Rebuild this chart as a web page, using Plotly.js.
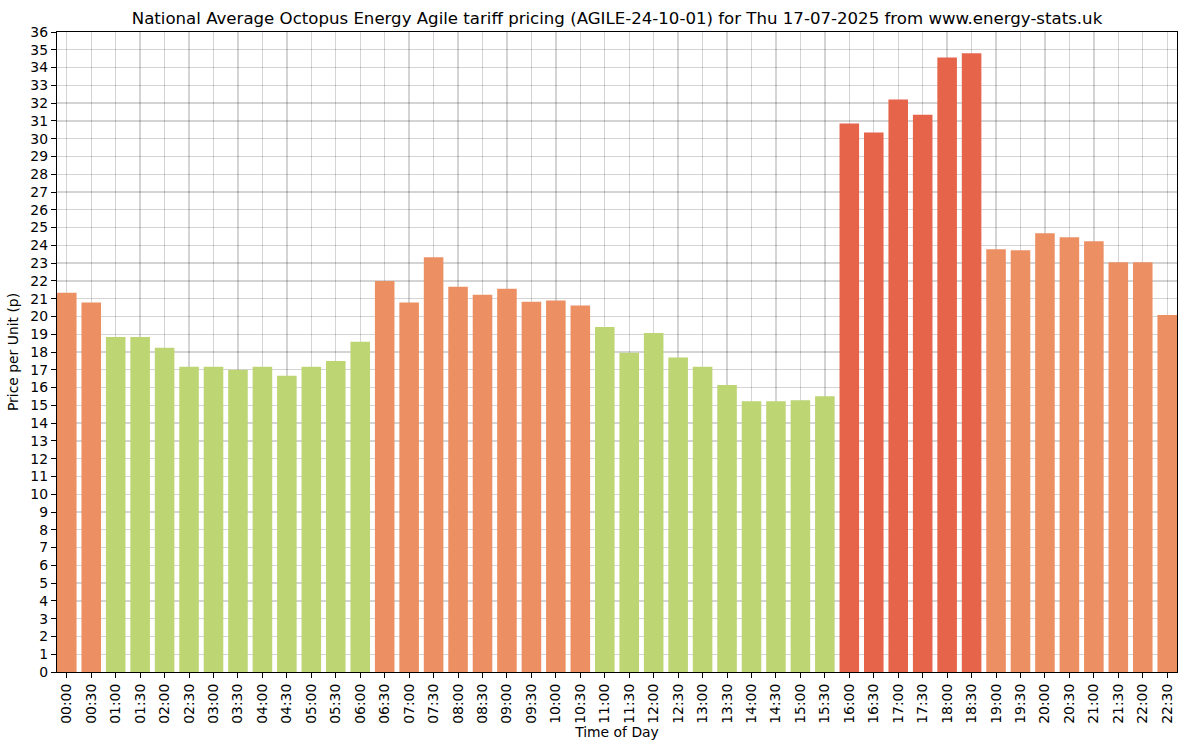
<!DOCTYPE html>
<html>
<head>
<meta charset="utf-8">
<script src="https://cdn.plot.ly/plotly-3.0.1.min.js"></script>
<style>
  html, body { margin: 0; padding: 0; background: #fff; }
  #chart { width: 1187px; height: 751px; }
</style>
</head>
<body>
<div id="chart"></div>
<script>
// half hour slots
var slots = ['00:00','00:30','01:00','01:30','02:00','02:30','03:00','03:30','04:00','04:30',
  '05:00','05:30','06:00','06:30','07:00','07:30','08:00','08:30','09:00','09:30',
  '10:00','10:30','11:00','11:30','12:00','12:30','13:00','13:30','14:00','14:30',
  '15:00','15:30','16:00','16:30','17:00','17:30','18:00','18:30','19:00','19:30',
  '20:00','20:30','21:00','21:30','22:00','22:30']

// price in pence
var prices = [21.33, 20.78, 18.85, 18.85, 18.24, 17.17, 17.17, 17.00, 17.17, 16.67,
  17.17, 17.50, 18.57, 22.00, 20.78, 23.33, 21.67, 21.22, 21.56, 20.83,
  20.89, 20.61, 19.41, 17.96, 19.07, 17.69, 17.17, 16.15, 15.23, 15.23,
  15.28, 15.51, 30.85, 30.35, 32.20, 31.35, 34.57, 34.80, 23.78, 23.72,
  24.68, 24.45, 24.23, 23.05, 23.05, 20.08]

var yTicks = []
for (var i = 0; i <= 36; i++) { yTicks.push(i) }

// colour bands
var bandColour = function(p){
  if (p > 30) { return '#e5644a' }
  if (p > 20) { return '#ec9064' }
  return '#bdd573'
}

var trace1 = {
  x: slots,
  y: prices,
  type: 'bar',
  width: 0.8,
  marker: { color: prices.map(bandColour), line: { width: 0 } },
  hoverinfo: 'x+y'
}

var gridCol = 'rgba(0,0,0,0.17)'

var layout = {
  width: 1187,
  height: 751,
  margin: { l: 57, r: 10, t: 32, b: 79 },
  paper_bgcolor: '#fff',
  plot_bgcolor: '#fff',
  showlegend: false,
  font: { family: 'DejaVu Sans', size: 13.9, color: '#000' },
  title: {
    text: 'National Average Octopus Energy Agile tariff pricing (AGILE-24-10-01) for Thu 17-07-2025 from www.energy-stats.uk',
    font: { family: 'DejaVu Sans', size: 16.6, color: '#000' },
    xref: 'paper', x: 0.5, xanchor: 'center',
    yref: 'container', y: 1 - 18 / 751, yanchor: 'middle'
  },
  xaxis: {
    type: 'category',
    range: [-0.4, 45.4],
    tickangle: -90,
    ticks: 'outside', ticklen: 5, tickwidth: 1, tickcolor: '#000',
    tickfont: { family: 'DejaVu Sans', size: 13.9, color: '#000' },
    showline: true, linecolor: '#000', linewidth: 1.2, mirror: true,
    showgrid: true, gridcolor: gridCol, gridwidth: 1.4,
    zeroline: false,
    title: { text: 'Time of Day', font: { family: 'DejaVu Sans', size: 13.9, color: '#000' }, standoff: 3 }
  },
  yaxis: {
    range: [0, 36],
    tickmode: 'array',
    tickvals: yTicks,
    ticktext: yTicks.map(String),
    ticks: 'outside', ticklen: 5, tickwidth: 1, tickcolor: '#000',
    tickfont: { family: 'DejaVu Sans', size: 13.9, color: '#000' },
    showline: true, linecolor: '#000', linewidth: 1.2, mirror: true,
    showgrid: true, gridcolor: gridCol, gridwidth: 1.4,
    zeroline: false,
    title: { text: 'Price per Unit (p)', font: { family: 'DejaVu Sans', size: 13.9, color: '#000' }, standoff: 8 }
  }
}

Plotly.newPlot('chart', [trace1], layout, { displayModeBar: false, staticPlot: true })
</script>
</body>
</html>
